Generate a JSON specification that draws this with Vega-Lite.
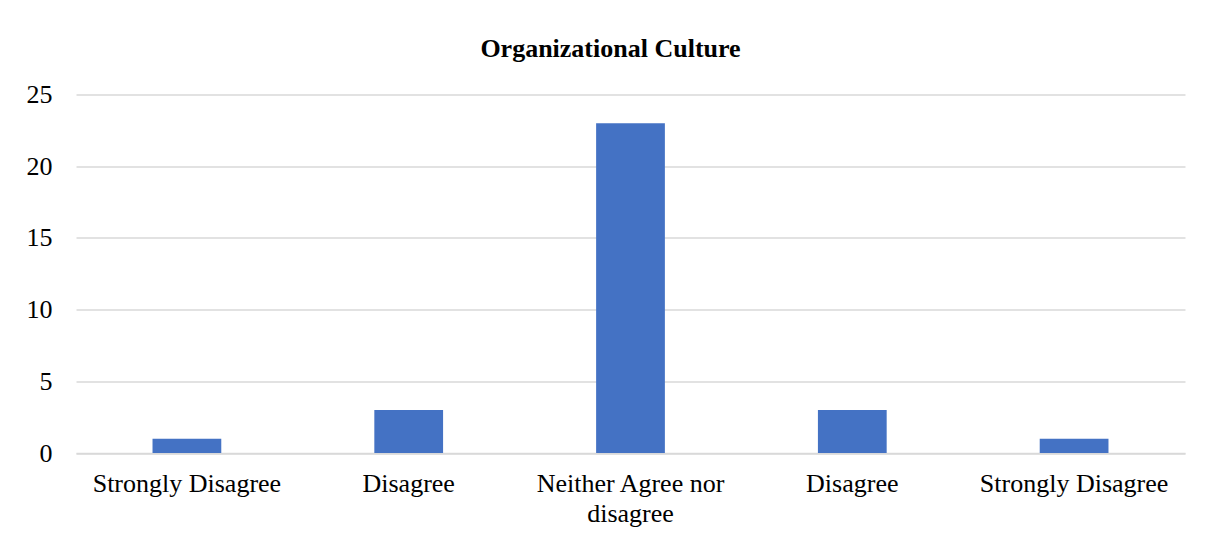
{
  "$schema": "https://vega.github.io/schema/vega-lite/v6.json",
  "autosize": {"type": "none"},
  "width": 1109,
  "height": 358.5,
  "padding": {"left": 76, "top": 94.5, "right": 26, "bottom": 85},
  "background": "white",
  "title": {
    "text": "Organizational Culture",
    "font": "Liberation Serif",
    "fontSize": 26,
    "fontWeight": "bold",
    "color": "#000000",
    "anchor": "middle",
    "frame": "group",
    "dx": -20,
    "offset": -1,
    "baseline": "alphabetic"
  },
  "data": {
    "values": [
      {"category": "Strongly Disagree", "count": 1},
      {"category": "Disagree", "count": 3},
      {"category": "Neither Agree nor disagree", "count": 23},
      {"category": "Disagree ", "count": 3},
      {"category": "Strongly Disagree ", "count": 1}
    ]
  },
  "mark": {"type": "bar", "color": "#4472c4"},
  "encoding": {
    "x": {
      "field": "category",
      "type": "nominal",
      "sort": null,
      "scale": {"paddingInner": 0.69, "paddingOuter": 0.345},
      "axis": {
        "title": null,
        "labelAngle": 0,
        "labelFont": "Liberation Serif",
        "labelFontSize": 26,
        "labelColor": "#000000",
        "labelLimit": 0,
        "labelPadding": 17,
        "labelLineHeight": 30,
        "ticks": false,
        "domain": true,
        "domainColor": "#d9d9d9",
        "domainWidth": 1.5,
        "labelExpr": "trim(datum.label) == 'Neither Agree nor disagree' ? ['Neither Agree nor', 'disagree'] : trim(datum.label)"
      }
    },
    "y": {
      "field": "count",
      "type": "quantitative",
      "scale": {"domain": [0, 25], "nice": false},
      "axis": {
        "title": null,
        "values": [0, 5, 10, 15, 20, 25],
        "labelFont": "Liberation Serif",
        "labelFontSize": 26,
        "labelColor": "#000000",
        "labelPadding": 24,
        "ticks": false,
        "domain": false,
        "grid": true,
        "gridColor": "#d9d9d9",
        "gridWidth": 1.5
      }
    }
  },
  "config": {"view": {"stroke": null}}
}
